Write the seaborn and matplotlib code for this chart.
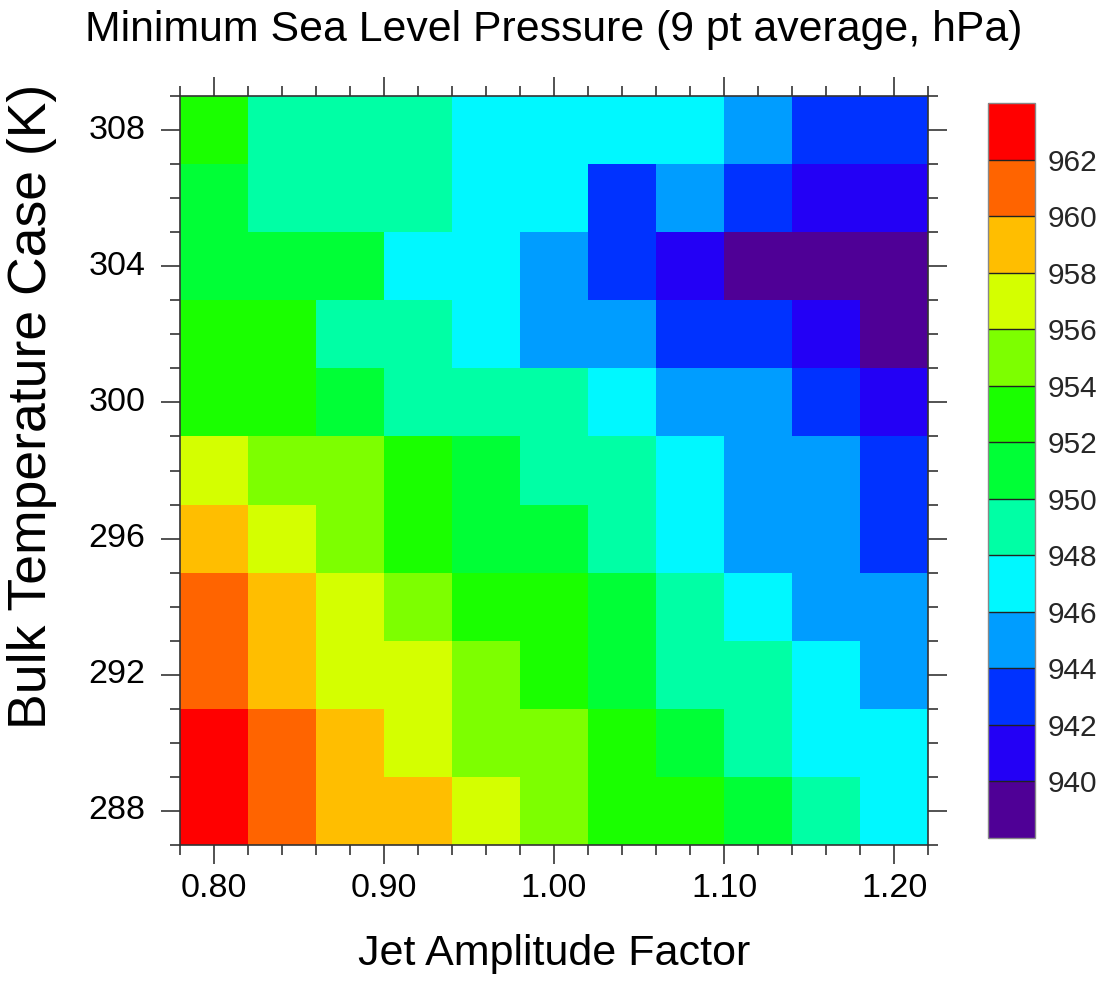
import numpy as np
import pandas as pd
import matplotlib
matplotlib.use("Agg")
import matplotlib.pyplot as plt
from matplotlib.colors import ListedColormap, BoundaryNorm
from matplotlib.ticker import FixedLocator
import seaborn as sns

# Jet amplitude factors (columns) and bulk temperature cases (rows, K)
jet_amp = [0.80, 0.84, 0.88, 0.92, 0.96, 1.00, 1.04, 1.08, 1.12, 1.16, 1.20]
temps = [308, 306, 304, 302, 300, 298, 296, 294, 292, 290, 288]

# Minimum sea level pressure (hPa, 9 pt average), one list per temperature case
slp_308 = [952.6, 949.1, 948.7, 948.3, 947.6, 947.2, 946.9, 946.4, 945.1, 943.5, 942.8]
slp_306 = [951.8, 949.4, 948.9, 948.2, 947.5, 946.6, 943.7, 944.9, 942.6, 941.4, 940.8]
slp_304 = [951.5, 950.9, 950.3, 947.8, 946.5, 945.3, 942.9, 941.2, 939.6, 939.1, 938.8]
slp_302 = [952.4, 952.1, 949.6, 948.8, 946.9, 945.7, 944.4, 943.6, 942.3, 941.5, 939.7]
slp_300 = [953.2, 952.5, 951.4, 949.8, 949.2, 948.5, 947.1, 945.6, 944.8, 943.1, 941.9]
slp_298 = [956.4, 955.3, 954.6, 953.1, 950.8, 949.7, 948.6, 947.3, 945.8, 944.6, 943.4]
slp_296 = [958.5, 956.7, 955.2, 953.4, 951.6, 950.5, 949.3, 946.8, 945.4, 944.2, 943.7]
slp_294 = [960.8, 958.9, 957.3, 955.5, 953.6, 952.8, 951.2, 948.9, 946.3, 945.5, 944.7]
slp_292 = [961.4, 959.6, 957.8, 956.9, 954.7, 953.0, 951.7, 949.5, 948.4, 947.0, 945.9]
slp_290 = [962.9, 960.6, 958.7, 957.1, 955.8, 954.3, 952.7, 950.6, 949.0, 947.7, 946.2]
slp_288 = [963.5, 961.2, 959.4, 958.2, 956.3, 954.9, 953.5, 952.2, 951.1, 949.2, 947.4]

# Contour levels shown on the label bar
levels = [938, 940, 942, 944, 946, 948, 950, 952, 954, 956, 958, 960, 962, 964]
level_labels = [940, 942, 944, 946, 948, 950, 952, 954, 956, 958, 960, 962]
x_major = [0.80, 0.90, 1.00, 1.10, 1.20]
y_major = [288, 292, 296, 300, 304, 308]

colors = ["#4F0096", "#2300F5", "#0032FF", "#009DFF", "#00F8FF", "#00FFA5",
          "#00FF36", "#1AFF00", "#7DFF00", "#D4FF00", "#FFBE00", "#FF6400", "#FF0000"]

sns.set_theme(style="ticks")
plt.rcParams["font.family"] = ["Liberation Sans", "DejaVu Sans"]

grid = pd.DataFrame(
    [slp_308, slp_306, slp_304, slp_302, slp_300, slp_298,
     slp_296, slp_294, slp_292, slp_290, slp_288],
    index=temps, columns=jet_amp)

cmap = ListedColormap(colors)
norm = BoundaryNorm(levels, cmap.N)

fig = plt.figure(figsize=(11.10, 9.85), dpi=100)
ax = fig.add_axes([0.1622, 0.1421, 0.6739, 0.7604])
cax = fig.add_axes([0.8901, 0.1492, 0.0423, 0.7462])

sns.heatmap(grid, ax=ax, cmap=cmap, norm=norm, cbar_ax=cax,
            cbar_kws={"ticks": level_labels, "drawedges": True},
            linewidths=0)

# heatmap cells sit on integer positions; convert data values to cell coordinates
dx = jet_amp[1] - jet_amp[0]
dy = temps[0] - temps[1]

def xpos(v):
    return (v - (jet_amp[0] - dx / 2)) / dx

def ypos(t):
    return ((temps[0] + dy / 2) - t) / dy

ax.xaxis.set_major_locator(FixedLocator([xpos(v) for v in x_major]))
ax.set_xticklabels([f"{v:.2f}" for v in x_major], rotation=0)
ax.xaxis.set_minor_locator(FixedLocator(np.arange(0, len(jet_amp) + 0.01, 0.5)))
ax.yaxis.set_major_locator(FixedLocator([ypos(t) for t in y_major]))
ax.set_yticklabels([str(t) for t in y_major], rotation=0)
ax.yaxis.set_minor_locator(FixedLocator(np.arange(0, len(temps) + 0.01, 0.5)))

for side in ["left", "right", "top", "bottom"]:
    ax.spines[side].set_visible(True)
    ax.spines[side].set_color("#333333")
    ax.spines[side].set_linewidth(1.2)

ax.tick_params(which="both", direction="out", top=True, right=True,
               bottom=True, left=True, labeltop=False, labelright=False,
               color="#444444", width=1.3)
ax.tick_params(which="major", length=14, labelsize=24.5, labelcolor="black")
ax.tick_params(which="minor", length=7)
ax.xaxis.set_tick_params(which="major", pad=6)
ax.yaxis.set_tick_params(which="major", pad=11)

ax.set_xlabel("Jet Amplitude Factor", fontsize=31, labelpad=22, color="black")
ax.set_ylabel("Bulk Temperature Case (K)", fontsize=38.5, color="black")
ax.yaxis.set_label_coords(-0.165, 0.586)
fig.text(0.499, 0.9695, "Minimum Sea Level Pressure (9 pt average, hPa)",
         fontsize=30.8, ha="center", va="center", color="black")

cbar = ax.collections[0].colorbar
cbar.ax.minorticks_off()
cbar.ax.tick_params(which="both", length=0, labelsize=21.5, pad=9)
cbar.outline.set_edgecolor("#888888")
cbar.outline.set_linewidth(1.0)
cbar.dividers.set_color("#222222")
cbar.dividers.set_linewidth(1.0)

fig.savefig("out.png", dpi=100)
